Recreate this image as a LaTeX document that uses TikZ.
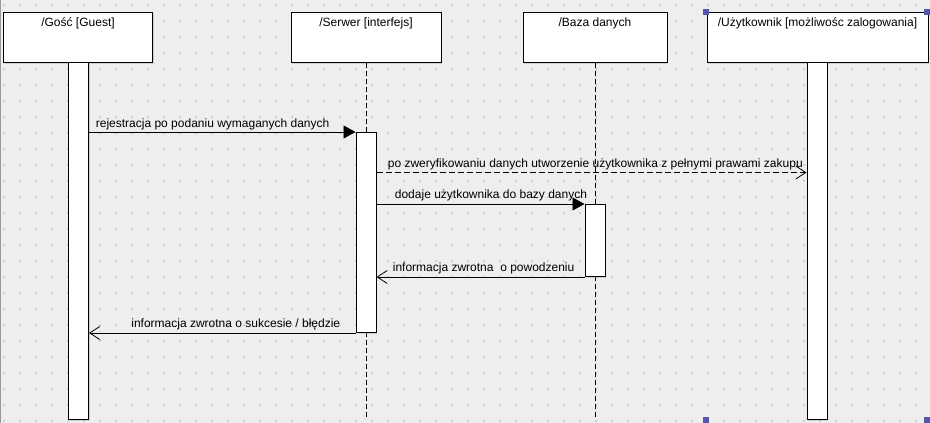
\documentclass[tikz,border=0pt]{standalone}
\usepackage{fontspec}
\setmainfont{Liberation Sans}
\usetikzlibrary{arrows.meta,shadows}
\definecolor{umlbg}{RGB}{238,238,238}
\definecolor{umldot}{RGB}{204,204,204}
\definecolor{umlhandle}{RGB}{85,85,170}

\begin{document}
\begin{tikzpicture}[x=1pt,y=-1pt,
    lifebox/.style={draw, fill=white, line width=1pt, anchor=north west, inner sep=0pt,
        minimum height=50pt, drop shadow={shadow xshift=1.2pt, shadow yshift=-1.2pt, fill=black!30}},
    boxtitle/.style={anchor=base, inner sep=0pt, font=\fontsize{12}{14}\selectfont},
    actbar/.style={draw, fill=white, line width=1pt, anchor=north west, inner sep=0pt,
        minimum width=20pt, drop shadow={shadow xshift=1.2pt, shadow yshift=-1.2pt, fill=black!30}},
    lifeline/.style={line width=0.9pt, dash pattern=on 5pt off 3pt},
    msg/.style={line width=0.8pt},
    callmsg/.style={msg, -{Triangle[length=12pt,width=13pt]}},
    backmsg/.style={msg, -{Straight Barb[length=10pt,width=13pt]}},
    msglabel/.style={inner sep=0pt, anchor=base west, font=\fontsize{12}{14}\selectfont}]

    % background with dotted grid
    \useasboundingbox (0,0) rectangle (930,423);
    \fill[umlbg] (0,0) rectangle (930,423);
    \draw[black!40] (0.5,0) -- (0.5,423);
    \foreach \i in {0,...,57}
        \foreach \j in {0,...,26}
            \fill[umldot] (3+16*\i,4+16*\j) rectangle +(2,2);

    % participants
    \node[lifebox, minimum width=149pt] (guest) at (3,12) {};
    \node[boxtitle] (guesttitle) at ([yshift=-14pt]guest.north) {/Gość [Guest]};
    \node[lifebox, minimum width=150pt] (server) at (290.5,12) {};
    \node[boxtitle] (servertitle) at ([yshift=-14pt]server.north) {/Serwer [interfejs]};
    \node[lifebox, minimum width=144pt] (db) at (522.5,12) {};
    \node[boxtitle] (dbtitle) at ([yshift=-14pt]db.north) {/Baza danych};
    \node[lifebox, minimum width=221pt] (user) at (706.5,12) {};
    \node[boxtitle] (usertitle) at ([yshift=-14pt]user.north) {/Użytkownik [możliwośc zalogowania]};

    % lifelines
    \coordinate (bottom) at (0,418);
    \draw[lifeline] (server.south) -- (server.south |- 0,132);
    \draw[lifeline] (server.south |- 0,332) -- (server.south |- bottom);
    \draw[lifeline] (db.south) -- (db.south |- 0,204);
    \draw[lifeline] (db.south |- 0,276) -- (db.south |- bottom);

    % activation bars
    \node[actbar, minimum height=357pt] (guestbar) at (68,62) {};
    \node[actbar, minimum height=200pt] (serverbar) at (355.5,132) {};
    \node[actbar, minimum height=72pt] (dbbar) at (584.5,204) {};
    \node[actbar, minimum height=357pt] (userbar) at (806.5,62) {};

    % messages
    \coordinate (m2) at (0,172.5);
    \draw[callmsg] (guestbar.east |- serverbar.north) --
        node[msglabel, at start, xshift=6.5pt, yshift=4.5pt] {rejestracja po podaniu wymaganych danych}
        (serverbar.north west);
    \draw[backmsg, dash pattern=on 6pt off 3pt] (serverbar.east |- m2) --
        node[msglabel, at start, xshift=11pt, yshift=5.5pt] {po zweryfikowaniu danych utworzenie użytkownika z pełnymi prawami zakupu}
        (userbar.west |- m2);
    \draw[callmsg] (serverbar.east |- dbbar.north) --
        node[msglabel, at start, xshift=18pt, yshift=5.5pt] {dodaje użytkownika do bazy danych}
        (dbbar.north west);
    \draw[backmsg] (dbbar.south west) --
        node[msglabel, at end, xshift=16pt, yshift=6pt] {informacja zwrotna\ \ o powodzeniu}
        (serverbar.east |- dbbar.south);
    \draw[backmsg] (serverbar.south west) --
        node[msglabel, at end, xshift=42pt, yshift=5.5pt] {informacja zwrotna o sukcesie / błędzie}
        (guestbar.east |- serverbar.south);

    % selection handles
    \foreach \hx/\hy in {703/9, 924/9, 703/417, 924/417}
        \fill[umlhandle] (\hx,\hy) rectangle +(6,6);
\end{tikzpicture}
\end{document}
